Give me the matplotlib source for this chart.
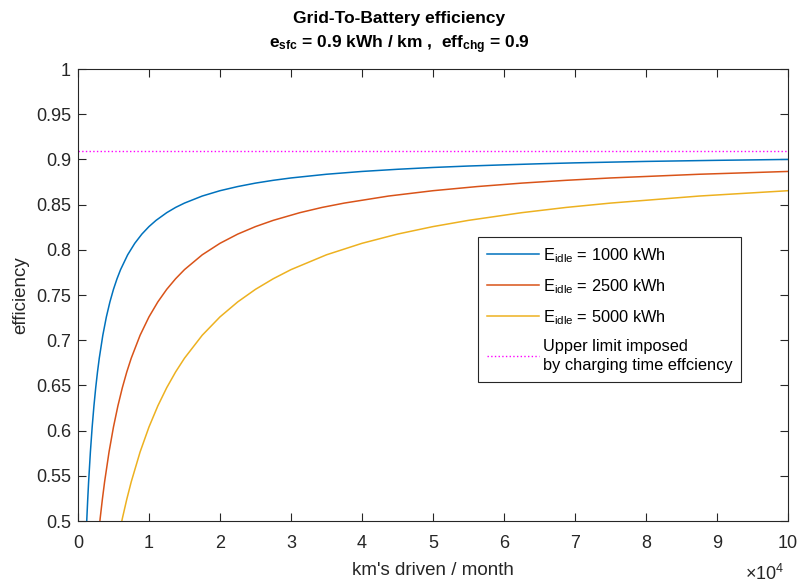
import matplotlib
matplotlib.use("Agg")
import matplotlib.pyplot as plt

plt.rcParams['font.family'] = ['Liberation Sans', 'DejaVu Sans']
plt.rcParams['mathtext.fontset'] = 'custom'
plt.rcParams['mathtext.rm'] = 'Liberation Sans'
plt.rcParams['mathtext.bf'] = 'Liberation Sans:bold'
plt.rcParams['mathtext.it'] = 'Liberation Sans:italic'

# km driven per month and efficiency
km_1000 = [1000, 1100, 1250, 1375, 1500, 1750, 2000, 2250, 2500, 2750, 3000, 3500, 4000, 4500, 5000, 5500,
           6000, 7000, 8000, 9000, 10000, 11000, 12500, 13750, 15000, 17500, 20000, 22500, 25000, 27500,
           30000, 35000, 40000, 45000, 50000, 55000, 60000, 65000, 70000, 75000, 80000, 85000, 90000,
           95000, 100000]
eff_1000 = [0.4523, 0.4739, 0.5028, 0.5241, 0.5433, 0.5764, 0.6040, 0.6274, 0.6475, 0.6649, 0.6801, 0.7055,
            0.7258, 0.7424, 0.7563, 0.7680, 0.7781, 0.7945, 0.8072, 0.8174, 0.8257, 0.8326, 0.8411, 0.8469,
            0.8517, 0.8595, 0.8654, 0.8700, 0.8738, 0.8769, 0.8795, 0.8836, 0.8867, 0.8891, 0.8911, 0.8927,
            0.8940, 0.8952, 0.8962, 0.8970, 0.8978, 0.8984, 0.8990, 0.8995, 0.9000]

km_2500 = [2750, 3125, 3438, 3750, 4375, 5000, 5625, 6250, 6875, 7500, 8750, 10000, 11250, 12500, 13750,
           15000, 17500, 20000, 22500, 25000, 27500, 31250, 34375, 37500, 43750, 50000, 56250, 62500, 68750,
           75000, 87500, 100000]
eff_2500 = [0.4739, 0.5028, 0.5241, 0.5433, 0.5764, 0.6040, 0.6274, 0.6475, 0.6649, 0.6801, 0.7055, 0.7258,
            0.7424, 0.7563, 0.7680, 0.7781, 0.7945, 0.8072, 0.8174, 0.8257, 0.8326, 0.8411, 0.8469, 0.8517,
            0.8595, 0.8654, 0.8700, 0.8738, 0.8769, 0.8795, 0.8836, 0.8867]

km_5000 = [5500, 6250, 6875, 7500, 8750, 10000, 11250, 12500, 13750, 15000, 17500, 20000, 22500, 25000,
           27500, 30000, 35000, 40000, 45000, 50000, 55000, 62500, 68750, 75000, 87500, 100000]
eff_5000 = [0.4739, 0.5028, 0.5241, 0.5433, 0.5764, 0.6040, 0.6274, 0.6475, 0.6649, 0.6801, 0.7055, 0.7258,
            0.7424, 0.7563, 0.7680, 0.7781, 0.7945, 0.8072, 0.8174, 0.8257, 0.8326, 0.8411, 0.8469, 0.8517,
            0.8595, 0.8654]

upper_limit = 0.909
labels = [r'E$_{\mathrm{idle}}$ = 1000 kWh', r'E$_{\mathrm{idle}}$ = 2500 kWh', r'E$_{\mathrm{idle}}$ = 5000 kWh',
          'Upper limit imposed\nby charging time effciency']

fig = plt.figure(figsize=(7.98, 5.83), dpi=100)
ax = fig.add_axes([0.0977, 0.1063, 0.8898, 0.7753])

ax.plot(km_1000, eff_1000, color='#0072BD', lw=1.1, label=labels[0])
ax.plot(km_2500, eff_2500, color='#D95319', lw=1.1, label=labels[1])
ax.plot(km_5000, eff_5000, color='#EDB120', lw=1.1, label=labels[2])
ax.axhline(upper_limit, color='#FF00FF', ls=':', lw=1.0, label=labels[3])

ax.set_xlim(0, 100000)
ax.set_ylim(0.5, 1)
ax.set_xticks(range(0, 100001, 10000))
ax.set_xticklabels([str(i) for i in range(11)])
ax.set_yticks([0.5 + 0.05 * i for i in range(11)])
ax.set_yticklabels(['0.5', '0.55', '0.6', '0.65', '0.7', '0.75', '0.8', '0.85', '0.9', '0.95', '1'])

grey = '#262626'
ax.tick_params(direction='in', length=6, width=0.8, colors=grey, labelsize=13,
               top=True, right=True, pad=5)
ax.tick_params(axis='x', pad=10)
for s in ax.spines.values():
    s.set_color(grey)
    s.set_linewidth(0.8)

ax.set_xlabel("km's driven / month", fontsize=13.5, color=grey, labelpad=7)
ax.set_ylabel('efficiency', fontsize=13.5, color=grey, labelpad=5)
fig.text(0.934, 0.006, r'$\times$10$^4$', fontsize=13, color=grey)

fig.text(0.5, 0.968, 'Grid-To-Battery efficiency', ha='center', va='center',
         fontsize=12.5, fontweight='bold', color='black')
fig.text(0.5, 0.923, r'e$_{\mathbf{sfc}}$ = 0.9 kWh / km ,  eff$_{\mathbf{chg}}$ = 0.9', ha='center', va='center',
         fontsize=12.5, fontweight='bold', color='black')

leg = ax.legend(loc='upper left', bbox_to_anchor=(0.599, 0.5935), bbox_transform=fig.transFigure,
                fontsize=11.8, handlelength=3.2, fancybox=False, framealpha=1, borderpad=0.55,
                borderaxespad=0, labelspacing=0.75, handletextpad=0.2)
leg.get_frame().set_edgecolor(grey)
leg.get_frame().set_linewidth(0.8)
for t in leg.get_texts():
    t.set_linespacing(1.35)

fig.savefig('out.png', dpi=100)
